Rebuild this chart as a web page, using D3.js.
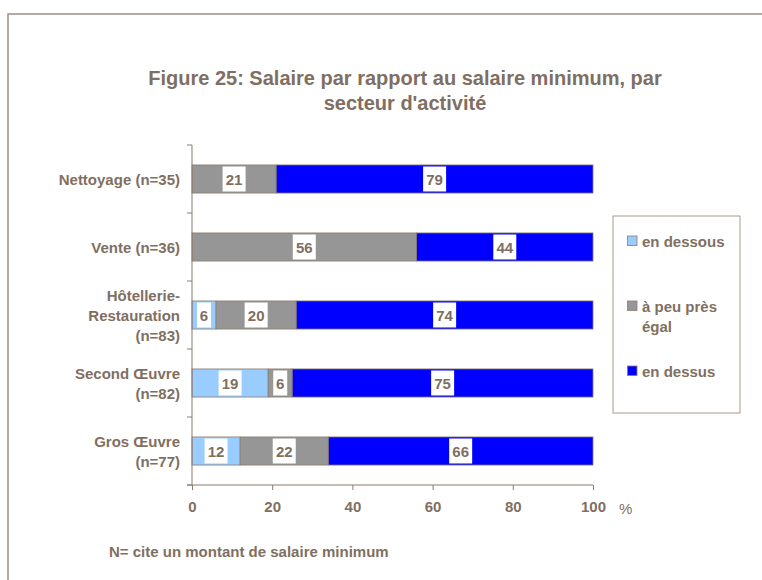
<!DOCTYPE html>
<html>
<head>
<meta charset="utf-8">
<script src="https://cdn.jsdelivr.net/npm/d3@7"></script>
<style>
  html, body { margin: 0; padding: 0; background: #fff; }
  svg { display: block; }
  text { font-family: "Liberation Sans", Arial, sans-serif; }
</style>
</head>
<body>
<svg id="chart" width="762" height="580"></svg>
<script>
// Sectors (top to bottom) with their label lines
const categories = ["Nettoyage", "Vente", "Hotellerie", "SecondOeuvre", "GrosOeuvre"];
const categoryLabels = [
  ["Nettoyage (n=35)"],
  ["Vente (n=36)"],
  ["Hôtellerie-", "Restauration", "(n=83)"],
  ["Second Œuvre", "(n=82)"],
  ["Gros Œuvre", "(n=77)"]
];

// Series: share of respondents (%)
const seriesNames = ["en dessous", "à peu près égal", "en dessus"];
const enDessous = [0, 0, 6, 19, 12];
const aPeuPresEgal = [21, 56, 20, 6, 22];
const enDessus = [79, 44, 74, 75, 66];

const xTicks = [0, 20, 40, 60, 80, 100];
const legendLines = [["en dessous"], ["à peu près", "égal"], ["en dessus"]];

const colors = ["#99ccff", "#969696", "#0000ff"];
const textColor = "#7f6f62";
const lineColor = "#8c7b6f";
const fs = 15;

const svg = d3.select("#chart");

// Outer frame
svg.append("rect")
  .attr("x", 8).attr("y", 14)
  .attr("width", 770).attr("height", 600)
  .attr("fill", "none")
  .attr("stroke", "#9d8f84")
  .attr("stroke-width", 1.5);

// Title
const title = svg.append("text")
  .attr("text-anchor", "middle")
  .attr("fill", textColor)
  .attr("font-size", 20)
  .attr("font-weight", "bold");
title.append("tspan").attr("x", 405).attr("y", 85)
  .text("Figure 25: Salaire par rapport au salaire minimum, par");
title.append("tspan").attr("x", 405).attr("y", 110)
  .text("secteur d'activité");

// Scales
const x = d3.scaleLinear().domain([0, 100]).range([192, 593]);
const y = d3.scaleBand().domain(categories).range([145, 485])
  .paddingInner(0.587).paddingOuter(0.2935);

// Stack data
const rows = categories.map((c, i) => ({
  cat: c,
  s0: enDessous[i],
  s1: aPeuPresEgal[i],
  s2: enDessus[i]
}));
const stack = d3.stack().keys(["s0", "s1", "s2"]);
const layers = stack(rows);

const g = svg.append("g");

layers.forEach((layer, li) => {
  g.selectAll(null)
    .data(layer.filter(d => d[1] - d[0] > 0))
    .join("rect")
    .attr("x", d => x(d[0]))
    .attr("y", d => y(d.data.cat))
    .attr("width", d => x(d[1]) - x(d[0]))
    .attr("height", y.bandwidth())
    .attr("fill", colors[li])
    .attr("stroke", lineColor)
    .attr("stroke-width", 0.8);
});

// Value labels in white boxes
layers.forEach((layer) => {
  layer.filter(d => d[1] - d[0] > 0).forEach(d => {
    const v = d[1] - d[0];
    const cx = x((d[0] + d[1]) / 2);
    const cy = y(d.data.cat) + y.bandwidth() / 2;
    const w = String(v).length > 1 ? 23 : 14;
    g.append("rect")
      .attr("x", cx - w / 2).attr("y", cy - 12.5)
      .attr("width", w).attr("height", 25)
      .attr("fill", "#fff");
    g.append("text")
      .attr("x", cx).attr("y", cy + 5.5)
      .attr("text-anchor", "middle")
      .attr("fill", textColor)
      .attr("font-size", fs)
      .attr("font-weight", "bold")
      .text(v);
  });
});

// X axis
const xAxis = d3.axisBottom(x).tickValues(xTicks).tickSize(5).tickSizeOuter(0).tickPadding(11);
const xg = svg.append("g").attr("transform", "translate(0,485)").call(xAxis);
xg.select(".domain").attr("stroke", lineColor).attr("d", "M187,0H593");
xg.selectAll(".tick line").attr("stroke", lineColor);
xg.selectAll(".tick text")
  .attr("fill", textColor)
  .attr("font-size", fs)
  .attr("font-weight", "bold")
  .attr("font-family", "'Liberation Sans', Arial, sans-serif");

svg.append("text")
  .attr("x", 619).attr("y", 514)
  .attr("fill", textColor)
  .attr("font-size", fs)
  .text("%");

// Y axis line with ticks at category boundaries
svg.append("line")
  .attr("x1", 192).attr("x2", 192)
  .attr("y1", y.range()[0]).attr("y2", 485)
  .attr("stroke", lineColor);
const step = y.step();
d3.range(categories.length + 1).forEach(i => {
  const yy = y.range()[0] + i * step;
  svg.append("line")
    .attr("x1", 187).attr("x2", 192)
    .attr("y1", yy).attr("y2", yy)
    .attr("stroke", lineColor);
});

// Category labels
categories.forEach((c, i) => {
  const lines = categoryLabels[i];
  const cy = y(c) + y.bandwidth() / 2;
  const lh = 20;
  const t = svg.append("text")
    .attr("text-anchor", "end")
    .attr("fill", textColor)
    .attr("font-size", fs)
    .attr("font-weight", "bold");
  lines.forEach((ln, j) => {
    t.append("tspan")
      .attr("x", 180)
      .attr("y", cy + 5.5 + (j - (lines.length - 1) / 2) * lh)
      .text(ln);
  });
});

// Legend
svg.append("rect")
  .attr("x", 613).attr("y", 216)
  .attr("width", 127).attr("height", 197)
  .attr("fill", "#fff")
  .attr("stroke", "#a89b90");
const legendY = [241, 306, 371];
seriesNames.forEach((s, i) => {
  svg.append("rect")
    .attr("x", 627.5).attr("y", legendY[i] - 5)
    .attr("width", 9.5).attr("height", 9.5)
    .attr("fill", colors[i])
    .attr("stroke", lineColor)
    .attr("stroke-width", 0.8);
  const t = svg.append("text")
    .attr("fill", textColor)
    .attr("font-size", fs)
    .attr("font-weight", "bold");
  legendLines[i].forEach((ln, j) => {
    t.append("tspan").attr("x", 642).attr("y", legendY[i] + 5.5 + j * 20).text(ln);
  });
});

// Footnote
svg.append("text")
  .attr("x", 109).attr("y", 557)
  .attr("fill", textColor)
  .attr("font-size", fs)
  .attr("font-weight", "bold")
  .text("N= cite un montant de salaire minimum");
</script>
</body>
</html>
